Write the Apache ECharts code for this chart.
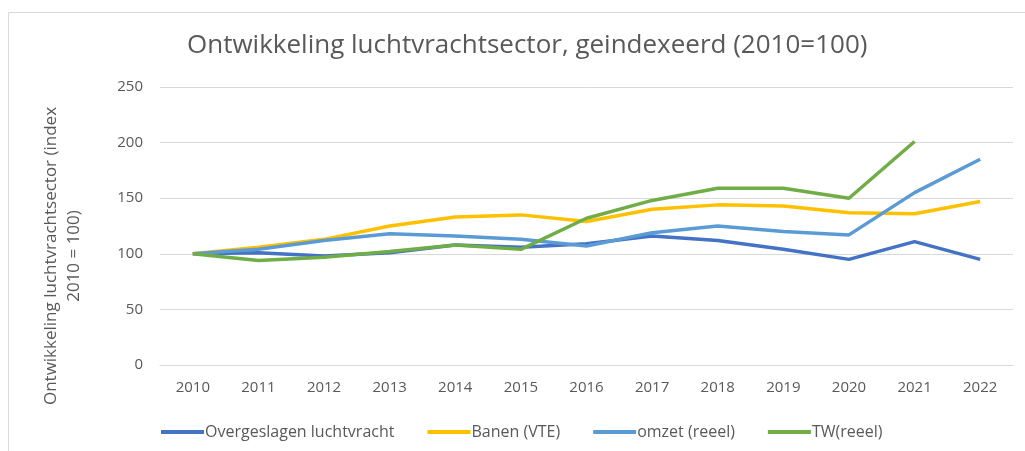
<!DOCTYPE html>
<html>
<head>
<meta charset="utf-8">
<script src="https://cdn.jsdelivr.net/npm/echarts@6/dist/echarts.min.js"></script>
<style>
  html, body { margin: 0; padding: 0; background: #fff; }
  #main { width: 1025px; height: 451px; }
</style>
</head>
<body>
<div id="main"></div>
<script>
// jaren op de x-as
const years = ['2010', '2011', '2012', '2013', '2014', '2015', '2016', '2017', '2018', '2019', '2020', '2021', '2022'];

// indexcijfers (2010 = 100)
const overgeslagen = [100, 101, 98, 101, 108, 106, 109, 116, 112, 104, 95, 111, 95];
const banen = [100, 106, 113, 125, 133, 135, 129, 140, 144, 143, 137, 136, 147];
const omzet = [100, 104, 112, 118, 116, 113, 107, 119, 125, 120, 117, 155, 185];
const tw = [100, 94, 97, 102, 108, 104, 132, 148, 159, 159, 150, 201, null];

const seriesNames = ['Overgeslagen luchtvracht', 'Banen (VTE)', 'omzet (reeel)', 'TW(reeel)'];
const seriesColors = ['#4472C4', '#FFC000', '#5B9BD5', '#70AD47'];
const seriesData = [overgeslagen, banen, omzet, tw];

const textColor = '#595959';
const font = '"Open Sans", sans-serif';

let myChart = echarts.init(document.getElementById('main'));

let option = {
  backgroundColor: '#fff',
  animation: false,
  textStyle: { fontFamily: font, color: textColor },
  graphic: [
    {
      type: 'rect',
      shape: { x: 8.5, y: 12.5, width: 1030, height: 460 },
      style: { fill: 'none', stroke: '#d9d9d9', lineWidth: 1 },
      silent: true
    }
  ],
  title: {
    text: 'Ontwikkeling luchtvrachtsector, geindexeerd (2010=100)',
    left: 182,
    top: 28,
    textStyle: { fontFamily: font, fontSize: 26, fontWeight: 'normal', color: textColor }
  },
  legend: {
    top: 419,
    left: 156,
    icon: 'rect',
    itemWidth: 43,
    itemHeight: 4,
    itemGap: 33,
    textStyle: { fontFamily: font, fontSize: 16, color: textColor, padding: [0, 0, 0, -4] },
    data: seriesNames
  },
  grid: { left: 160, right: 12, top: 87, bottom: 86 },
  xAxis: {
    type: 'category',
    data: years,
    boundaryGap: true,
    axisLine: { lineStyle: { color: '#d9d9d9' } },
    axisTick: { show: false },
    axisLabel: { color: textColor, fontSize: 15, margin: 15, fontFamily: font }
  },
  yAxis: {
    type: 'value',
    min: 0,
    max: 250,
    interval: 50,
    name: 'Ontwikkeling luchtvrachtsector (index\n2010 = 100)',
    nameLocation: 'middle',
    nameRotate: 90,
    nameGap: 74,
    nameTextStyle: { color: textColor, fontSize: 17, lineHeight: 23, fontFamily: font, padding: [0, 60, 0, 0] },
    axisLine: { show: false },
    axisTick: { show: false },
    axisLabel: { color: textColor, fontSize: 15, margin: 17, fontFamily: font },
    splitLine: { lineStyle: { color: '#d9d9d9', width: 1 } }
  },
  series: seriesNames.map((name, i) => ({
    name: name,
    type: 'line',
    data: seriesData[i],
    showSymbol: false,
    symbol: 'none',
    color: seriesColors[i],
    lineStyle: { width: 3.5, color: seriesColors[i] }
  }))
};

myChart.setOption(option);
</script>
</body>
</html>
